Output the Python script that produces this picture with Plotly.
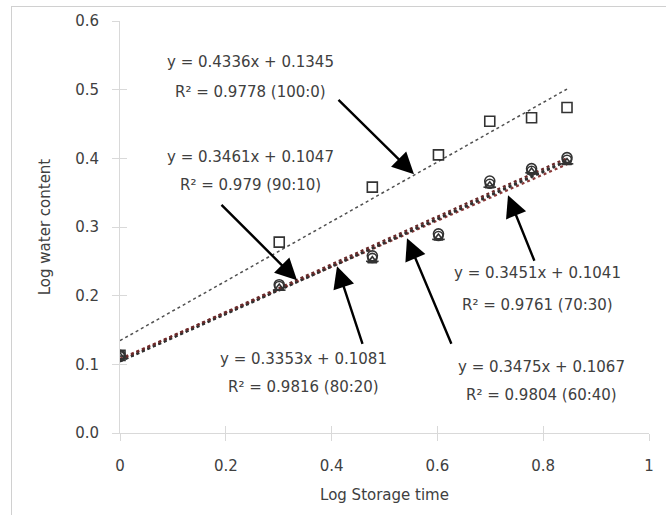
import plotly.graph_objects as go

# Data
log_time = [0, 0.301, 0.477, 0.602, 0.699, 0.778, 0.845]
series_names = ["100:0", "90:10", "80:20", "70:30", "60:40"]
wc_100_0 = [0.113, 0.278, 0.358, 0.405, 0.454, 0.459, 0.474]
wc_90_10 = [0.113, 0.216, 0.258, 0.290, 0.367, 0.385, 0.401]
wc_80_20 = [0.111, 0.211, 0.251, 0.284, 0.360, 0.380, 0.394]
wc_70_30 = [0.112, 0.214, 0.255, 0.287, 0.363, 0.382, 0.398]
wc_60_40 = [0.112, 0.208, 0.250, 0.282, 0.358, 0.379, 0.392]
slopes = [0.4336, 0.3461, 0.3353, 0.3451, 0.3475]
intercepts = [0.1345, 0.1047, 0.1081, 0.1041, 0.1067]
r2 = ["0.9778", "0.979", "0.9816", "0.9761", "0.9804"]

all_series = [wc_100_0, wc_90_10, wc_80_20, wc_70_30, wc_60_40]
symbols = ["square-open", "circle-open", "triangle-up-open", "circle-open", "line-ew-open"]
msizes = [10, 10, 8, 9, 9]
line_colors = ["#505050", "#3a3a3a", "#8a3a3a", "#303030", "#6a2a2a"]
line_widths = [1.5, 2.2, 2.2, 2.2, 2.2]

FONT = "DejaVu Sans"
TXT = "#404040"

fig = go.Figure()

# trendlines
x_fit = [min(log_time), max(log_time)]
for i, name in enumerate(series_names):
    fig.add_trace(go.Scatter(
        x=x_fit, y=[slopes[i] * xv + intercepts[i] for xv in x_fit],
        mode="lines", line=dict(color=line_colors[i], width=line_widths[i], dash="dot"),
        showlegend=False, hoverinfo="skip"))

# markers
for i, name in enumerate(series_names):
    fig.add_trace(go.Scatter(
        x=log_time, y=all_series[i], mode="markers", name=name,
        marker=dict(symbol=symbols[i], size=msizes[i], color="#333333",
                    line=dict(color="#333333", width=1.6)),
        showlegend=False))

# invisible trace for overlay axes (inside ticks)
fig.add_trace(go.Scatter(x=[0], y=[0], xaxis="x2", yaxis="y2", mode="markers",
                         marker=dict(opacity=0), showlegend=False, hoverinfo="skip"))

def px2x(p):
    return (p - 120) / 529.0

def py2y(p):
    return (432.7 - p) / 686.7

label_pos = [(250, 62, 92), (250, 157, 185), (303, 359, 387), (537, 273, 305), (541, 367, 395)]
arrows = [((414, 174), (337, 98)), ((297, 280), (220, 203)), ((337, 266), (363, 345)),
          ((508, 195), (535, 262)), ((407, 238), (452, 345))]

annotations = []
for i, name in enumerate(series_names):
    cx, y1, y2 = label_pos[i]
    annotations.append(dict(x=px2x(cx), y=py2y(y1), xref="x", yref="y", showarrow=False,
                            text=f"y = {slopes[i]:.4f}x + {intercepts[i]:.4f}",
                            font=dict(family=FONT, size=15, color=TXT)))
    annotations.append(dict(x=px2x(cx), y=py2y(y2), xref="x", yref="y", showarrow=False,
                            text=f"R² = {r2[i]} ({name})",
                            font=dict(family=FONT, size=15, color=TXT)))
    (tx, ty), (sx, sy) = arrows[i]
    annotations.append(dict(x=px2x(tx), y=py2y(ty), ax=px2x(sx), ay=py2y(sy),
                            xref="x", yref="y", axref="x", ayref="y", text="",
                            showarrow=True, arrowhead=2, arrowsize=1.8, arrowwidth=2.4,
                            arrowcolor="#000000", standoff=0, startstandoff=0))

axis_common = dict(showgrid=False, zeroline=False, showline=True, linecolor="#d9d9d9",
                   linewidth=1, ticks="outside", ticklen=7, tickcolor="#d9d9d9",
                   tickfont=dict(family=FONT, size=15, color=TXT))

fig.update_layout(
    width=666, height=515,
    margin=dict(l=120, r=17, t=21, b=82),
    paper_bgcolor="white", plot_bgcolor="white",
    showlegend=False,
    xaxis=dict(range=[0, 1], tickvals=[0, 0.2, 0.4, 0.6, 0.8, 1],
               ticktext=["0", "0.2", "0.4", "0.6", "0.8", "1"],
               title=dict(text="Log Storage time", font=dict(family=FONT, size=15, color=TXT), standoff=15),
               ticklabelstandoff=12, **axis_common),
    yaxis=dict(range=[0, 0.6], tickvals=[0, 0.1, 0.2, 0.3, 0.4, 0.5, 0.6],
               ticktext=["0.0", "0.1", "0.2", "0.3", "0.4", "0.5", "0.6"],
               title=dict(text="Log water content", font=dict(family=FONT, size=15, color=TXT), standoff=20),
               ticklabelstandoff=10, **axis_common),
    xaxis2=dict(range=[0, 1], overlaying="x", side="bottom", tickvals=[0, 0.2, 0.4, 0.6, 0.8, 1],
                showticklabels=False, ticks="inside", ticklen=7, tickcolor="#d9d9d9",
                showgrid=False, zeroline=False, showline=False),
    yaxis2=dict(range=[0, 0.6], overlaying="y", side="left", tickvals=[0, 0.1, 0.2, 0.3, 0.4, 0.5, 0.6],
                showticklabels=False, ticks="inside", ticklen=7, tickcolor="#d9d9d9",
                showgrid=False, zeroline=False, showline=False),
    annotations=annotations,
)

post = (
    "document.body.style.margin='0';"
    "document.body.style.overflow='hidden';"
    "var fr=document.createElement('div');"
    "fr.style.cssText='position:absolute;left:11px;top:6px;width:700px;height:600px;"
    "border:1px solid #d0d0d0;pointer-events:none;';"
    "document.body.appendChild(fr);"
)

fig.write_html("out.html", config={"displayModeBar": False}, post_script=post)
